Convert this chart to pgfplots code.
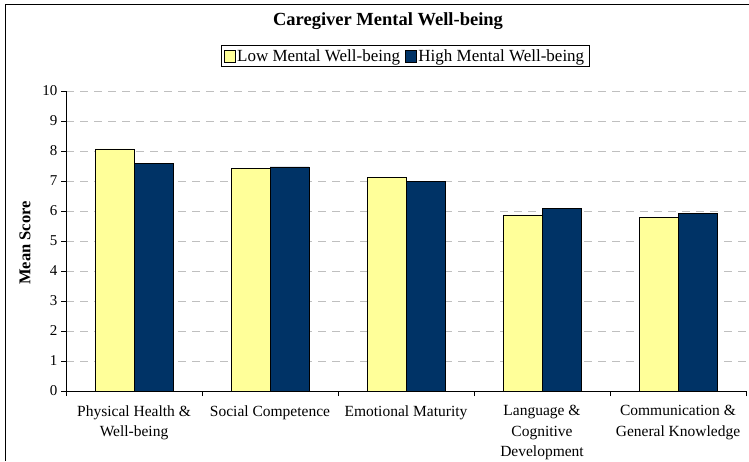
\documentclass[border=0pt]{standalone}
\usepackage{pgfplots}
\pgfplotsset{compat=1.18}
\usepackage{fontspec}
\setmainfont{Liberation Serif}
\definecolor{lowc}{HTML}{FFFF99}
\definecolor{highc}{HTML}{003366}
\begin{document}
\begin{tikzpicture}
\useasboundingbox (0pt,0pt) rectangle (749pt,461pt);
% outer chart frame
\draw[black, line width=1pt] (5pt,0pt) -- (5pt,456pt) -- (749pt,456pt);
\node[font=\fontsize{18.5}{20}\selectfont\bfseries] at (388pt,440pt) {Caregiver Mental Well-being};
\node[font=\fontsize{16.5}{18}\selectfont\bfseries, rotate=90] at (25pt,218pt) {Mean Score};
\begin{axis}[
    at={(66pt,70pt)}, anchor=south west,
    scale only axis,
    width=680pt, height=300pt,
    ybar=0pt,
    bar width=39pt,
    xmin=-0.5, xmax=4.5,
    ymin=0, ymax=10,
    ytick={0,...,10},
    % tick marks at category boundaries, names set as extra ticks
    xtick={-0.5,0.5,1.5,2.5,3.5,4.5},
    xticklabels={},
    extra x ticks={0,1,2,3,4},
    extra x tick labels={Physical Health \&\\Well-being, Social Competence, Emotional Maturity, Language \&\\Cognitive\\Development, Communication \&\\General Knowledge},
    extra x tick style={major tick length=0pt, ticklabel style={align=center, font=\fontsize{15.5}{20.5}\selectfont, yshift=-11pt}},
    yticklabel style={font=\fontsize{15}{17}\selectfont},
    /pgf/number format/assume math mode=true,
    tick align=outside,
    major tick length=5pt,
    tick style={black},
    axis lines*=left,
    axis line style={black},
    ymajorgrids=true,
    grid style={gray!50, dashed, dash pattern=on 8pt off 6pt},
    legend style={at={(0.4985,1.117)}, anchor=center, draw=black, legend columns=2,
        font=\fontsize{17}{19}\selectfont, /tikz/every even column/.append style={column sep=3pt}},
    legend image code/.code={\draw[#1] (0pt,-6pt) rectangle (11pt,6pt);},
]
\addplot[fill=lowc, draw=black] coordinates {(0,8.07) (1,7.43) (2,7.13) (3,5.87) (4,5.80)};
\addplot[fill=highc, draw=black] coordinates {(0,7.60) (1,7.47) (2,7.00) (3,6.08) (4,5.93)};
\legend{Low Mental Well-being, High Mental Well-being}
\end{axis}
\end{tikzpicture}
\end{document}
